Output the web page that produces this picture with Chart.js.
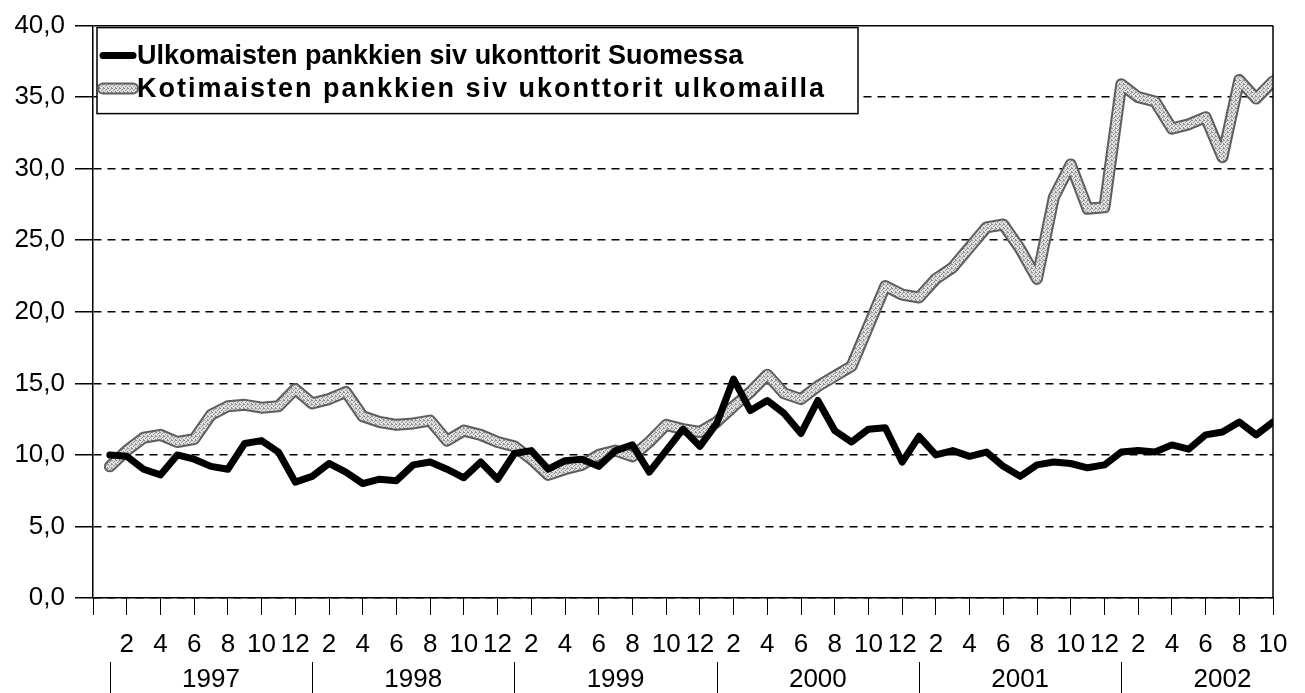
<!DOCTYPE html>
<html lang="fi">
<head>
<meta charset="utf-8">
<title>Pankkien sivukonttorit</title>
<script src="https://cdn.jsdelivr.net/npm/chart.js@4.4.1/dist/chart.umd.min.js"></script>
<style>
  html, body { margin: 0; padding: 0; background: #fff; }
  canvas { display: block; }
</style>
</head>
<body>
<canvas id="kaavio" width="1305" height="693"></canvas>
<script>
const FONTTI = "'Liberation Sans', Arial, sans-serif";

const vuodet = ["1997", "1998", "1999", "2000", "2001", "2002"];
const kuukaudet = vuodet.flatMap(() => [1, 2, 3, 4, 5, 6, 7, 8, 9, 10, 11, 12]).slice(0, 70);

const sarjaNimet = [
  "Ulkomaisten pankkien siv ukonttorit Suomessa",
  "Kotimaisten pankkien siv ukonttorit ulkomailla"
];

// 1/1997 - 10/2002
const ulkomaiset = [
  10.0, 9.9, 9.0, 8.6, 10.0, 9.7, 9.2, 9.0, 10.8, 11.0, 10.2, 8.1,
  8.5, 9.4, 8.8, 8.0, 8.3, 8.2, 9.3, 9.5, 9.0, 8.4, 9.5, 8.3,
  10.1, 10.3, 9.0, 9.6, 9.7, 9.2, 10.3, 10.7, 8.8, 10.3, 11.8, 10.6,
  12.2, 15.3, 13.1, 13.8, 12.9, 11.5, 13.8, 11.7, 10.9, 11.8, 11.9, 9.5,
  11.3, 10.0, 10.3, 9.9, 10.2, 9.2, 8.5, 9.3, 9.5, 9.4, 9.1, 9.3,
  10.2, 10.3, 10.2, 10.7, 10.4, 11.4, 11.6, 12.3, 11.4, 12.3
];

const kotimaiset = [
  9.2, 10.3, 11.2, 11.4, 10.9, 11.1, 12.8, 13.4, 13.5, 13.3, 13.4, 14.6,
  13.6, 13.9, 14.4, 12.7, 12.3, 12.1, 12.2, 12.4, 11.0, 11.7, 11.4, 10.9,
  10.6, 9.7, 8.6, 9.0, 9.3, 10.0, 10.3, 9.9, 10.9, 12.1, 11.8, 11.6,
  12.3, 13.4, 14.4, 15.6, 14.3, 13.9, 14.8, 15.5, 16.2, 19.0, 21.8, 21.2,
  21.0, 22.3, 23.1, 24.5, 25.9, 26.1, 24.4, 22.3, 28.0, 30.3, 27.2, 27.3,
  35.9, 35.0, 34.7, 32.8, 33.1, 33.6, 30.8, 36.2, 34.9, 36.1
];

// rasteroitu harmaa kuvio kuten tulosteessa
function rasteri() {
  const c = document.createElement("canvas");
  c.width = 4; c.height = 4;
  const g = c.getContext("2d");
  g.fillStyle = "#e2e2e2";
  g.fillRect(0, 0, 4, 4);
  g.fillStyle = "#8a8a8a";
  [[0, 0], [2, 1], [1, 2], [3, 3], [3, 0]].forEach(p => g.fillRect(p[0], p[1], 1, 1));
  return g.createPattern(c, "repeat");
}

const ctx = document.getElementById("kaavio").getContext("2d");
const harmaa = rasteri();

const pisteet = arr => arr.map((v, i) => ({ x: i + 1, y: v }));

// piirtää selitteen viivanäytteen samalla tyylillä kuin sarja
function nayte(c, d, x1, x2, y) {
  c.save();
  c.lineCap = "round";
  if (d.reunus) {
    c.strokeStyle = d.reunus;
    c.lineWidth = 12;
    c.beginPath(); c.moveTo(x1, y); c.lineTo(x2, y); c.stroke();
  }
  c.strokeStyle = d.borderColor;
  c.lineWidth = d.borderWidth;
  c.beginPath(); c.moveTo(x1, y); c.lineTo(x2, y); c.stroke();
  c.restore();
}

const selite = {
  id: "selite",
  afterDraw(chart) {
    const c = chart.ctx, a = chart.chartArea;
    const x0 = a.left + 4, y0 = a.top + 2, w = 761, h = 86;
    c.save();
    c.fillStyle = "#fff";
    c.fillRect(x0, y0, w, h);
    c.strokeStyle = "#000";
    c.lineWidth = 1.5;
    c.strokeRect(x0, y0, w, h);
    c.font = "bold 27px " + FONTTI;
    c.fillStyle = "#000";
    c.textBaseline = "middle";
    chart.data.datasets.filter(d => d.label).forEach((d, i) => {
      const y = y0 + 28 + i * 33;
      nayte(c, d, x0 + 6, x0 + 36, y);
      // toinen rivi on tulosteessa leveämpi
      c.letterSpacing = i === 1 ? "2px" : "0px";
      c.fillText(d.label, x0 + 40, y + 1);
    });
    c.restore();
  }
};

const vuosiRivi = {
  id: "vuosiRivi",
  afterDraw(chart) {
    const x = chart.scales.x, a = chart.chartArea, c = chart.ctx;
    c.save();
    c.strokeStyle = "#000";
    c.fillStyle = "#000";
    c.lineWidth = 1;
    c.font = "26px " + FONTTI;
    c.textAlign = "center";
    c.textBaseline = "middle";
    vuodet.forEach((v, i) => {
      const alku = 1 + i * 12;
      const sx = Math.round(x.getPixelForValue(alku)) + 0.5;
      c.beginPath(); c.moveTo(sx, x.top + 64); c.lineTo(sx, x.top + 95); c.stroke();
      c.fillText(v, x.getPixelForValue(alku + 6), x.top + 82);
    });
    // oikea reuna
    c.lineWidth = 1.5;
    c.beginPath(); c.moveTo(a.right, a.top); c.lineTo(a.right, a.bottom); c.stroke();
    c.restore();
  }
};

new Chart(ctx, {
  type: "line",
  data: {
    datasets: [
      {
        label: sarjaNimet[0],
        data: pisteet(ulkomaiset),
        borderColor: "#000",
        borderWidth: 7,
        borderCapStyle: "round",
        borderJoinStyle: "round",
        order: 0
      },
      {
        label: sarjaNimet[1],
        data: pisteet(kotimaiset),
        borderColor: harmaa,
        reunus: "#5e5e5e",
        borderWidth: 8,
        borderCapStyle: "round",
        borderJoinStyle: "round",
        order: 1
      },
      {
        // harmaan viivan tumma reuna
        data: pisteet(kotimaiset),
        borderColor: "#5e5e5e",
        borderWidth: 12,
        borderCapStyle: "round",
        borderJoinStyle: "round",
        order: 2
      }
    ]
  },
  options: {
    responsive: false,
    animation: false,
    layout: { padding: { top: 25, right: 32, left: 0, bottom: 0 } },
    elements: { point: { radius: 0 }, line: { tension: 0 } },
    plugins: { legend: { display: false }, tooltip: { enabled: false } },
    scales: {
      x: {
        type: "linear",
        min: 0,
        max: 70,
        afterFit: s => { s.height = 95; },
        ticks: {
          stepSize: 2,
          autoSkip: false,
          maxRotation: 0,
          padding: 14,
          color: "#000",
          font: { family: FONTTI, size: 26 },
          callback: v => v === 0 ? "" : kuukaudet[v - 1]
        },
        grid: { drawOnChartArea: false, tickLength: 17, color: "#000", lineWidth: 1 },
        border: { color: "#000", width: 1.5 }
      },
      y: {
        min: 0,
        max: 40,
        afterFit: s => { s.width = 93; },
        ticks: {
          stepSize: 5,
          padding: 10,
          color: "#000",
          font: { family: FONTTI, size: 26 },
          callback: v => v.toFixed(1).replace(".", ",")
        },
        grid: { color: "#000", lineWidth: 1.5, tickLength: 18 },
        border: {
          color: "#000",
          width: 1.5,
          dash: c => (c.tick && c.tick.value === 40) ? [] : [8, 6]
        }
      }
    }
  },
  plugins: [vuosiRivi, selite]
});
</script>
</body>
</html>
